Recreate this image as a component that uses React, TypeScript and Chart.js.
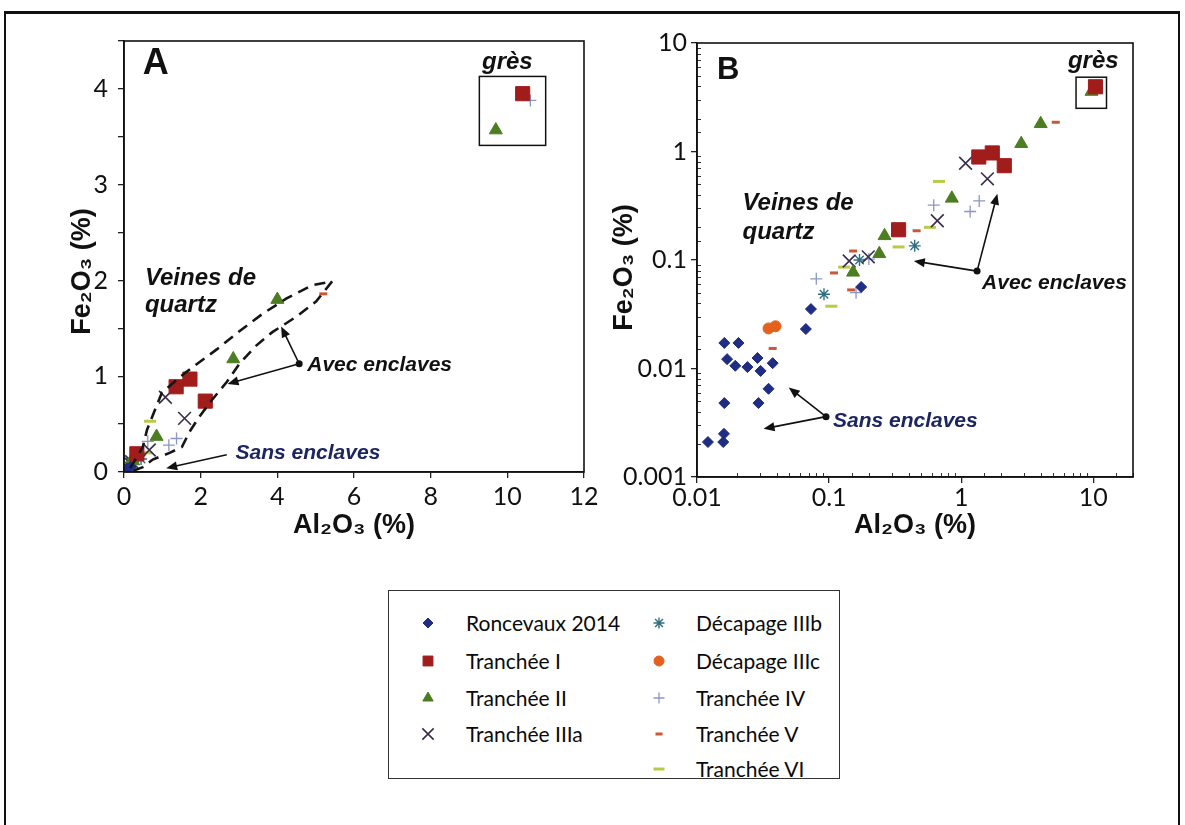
import React, { useEffect, useRef } from 'react';
import { Chart, registerables } from 'chart.js';
import { drawPoint } from 'chart.js/helpers';

Chart.register(...registerables);

// ---------------- data (Al2O3 %, Fe2O3 %) ----------------
const roncevauxAl = [0.0121, 0.0158, 0.016, 0.0161, 0.0161, 0.0206, 0.0169, 0.0195, 0.0241, 0.0287, 0.0303, 0.0374, 0.0348, 0.0292, 0.0667, 0.0729, 0.175];
const roncevauxFe = [0.0021, 0.0021, 0.0025, 0.0048, 0.0172, 0.0172, 0.0122, 0.0106, 0.0103, 0.0125, 0.0095, 0.0112, 0.0065, 0.0048, 0.0231, 0.0353, 0.0564];

const tranchee1Al = [1.36, 1.72, 2.12, 0.336, 10.4];
const tranchee1Fe = [0.89, 0.97, 0.74, 0.19, 3.95];

const tranchee2Al = [4.0, 2.85, 0.85, 0.263, 0.24, 0.152, 9.7];
const tranchee2Fe = [1.8, 1.18, 0.37, 0.167, 0.114, 0.077, 3.57];

const tranchee3aAl = [1.08, 1.58, 0.66, 0.142, 0.198];
const tranchee3aFe = [0.78, 0.56, 0.23, 0.098, 0.107];

const decapage3bAl = [0.445, 0.0915, 0.17];
const decapage3bFe = [0.135, 0.0484, 0.1];

const decapage3cAl = [0.0348, 0.0393];
const decapage3cFe = [0.0234, 0.0245];

const tranchee4Al = [0.08, 0.2, 0.16, 0.62, 1.17, 1.37, 10.6];
const tranchee4Fe = [0.067, 0.102, 0.05, 0.32, 0.28, 0.35, 3.88];

const tranchee5Al = [0.46, 0.152, 0.109, 0.147, 0.0374, 5.2];
const tranchee5Fe = [0.186, 0.121, 0.076, 0.053, 0.0153, 1.86];

const tranchee6Al = [0.68, 0.58, 0.336, 0.104, 0.13];
const tranchee6Fe = [0.53, 0.2, 0.132, 0.0375, 0.086];

const linearTicksA = { xMin: 0, xMax: 12, xStep: 2, yMin: 0, yMax: 4.5, yStep: 0.5 };
const logTickLabels = ['0.001', '0.01', '0.1', '1', '10'];

// ---------------- styles ----------------
type Series = { label: string; al: number[]; fe: number[]; style: string; r: number; lr: number; color: string; bw: number };
const SERIES: Series[] = [
  { label: 'Roncevaux 2014', al: roncevauxAl, fe: roncevauxFe, style: 'rectRot', r: 5.5, lr: 5, color: '#1f2d84', bw: 1 },
  { label: 'Tranchée I', al: tranchee1Al, fe: tranchee1Fe, style: 'rect', r: 10, lr: 7, color: '#a11d1c', bw: 1 },
  { label: 'Tranchée II', al: tranchee2Al, fe: tranchee2Fe, style: 'triangle', r: 7.5, lr: 6, color: '#4d7d21', bw: 1 },
  { label: 'Tranchée IIIa', al: tranchee3aAl, fe: tranchee3aFe, style: 'crossRot', r: 9, lr: 8, color: '#3a2d4c', bw: 1.6 },
  { label: 'Décapage IIIb', al: decapage3bAl, fe: decapage3bFe, style: 'star', r: 6, lr: 5.5, color: '#2f7080', bw: 1.4 },
  { label: 'Décapage IIIc', al: decapage3cAl, fe: decapage3cFe, style: 'circle', r: 5.5, lr: 5, color: '#e3611d', bw: 1 },
  { label: 'Tranchée IV', al: tranchee4Al, fe: tranchee4Fe, style: 'cross', r: 6, lr: 5.5, color: '#8a96c8', bw: 1.3 },
  { label: 'Tranchée V', al: tranchee5Al, fe: tranchee5Fe, style: 'line', r: 4, lr: 3.5, color: '#c8573c', bw: 3 },
  { label: 'Tranchée VI', al: tranchee6Al, fe: tranchee6Fe, style: 'line', r: 6, lr: 5.5, color: '#b8cb44', bw: 3 },
];

const TICK_FONT = { family: "Lato, 'Liberation Sans', sans-serif", size: 25 };
const TITLE_FONT = { family: "'Liberation Sans', Arial, 'DejaVu Sans', sans-serif", size: 27, weight: 'bold' as const };
const ANNO_FONT = "'Liberation Sans', Arial, sans-serif";

function makeDatasets() {
  return SERIES.map((s) => ({
    label: s.label,
    data: s.al.map((x, i) => ({ x, y: s.fe[i] })),
    pointStyle: s.style as any,
    pointRadius: s.r,
    pointHoverRadius: s.r,
    backgroundColor: s.color,
    borderColor: s.color,
    borderWidth: s.bw,
    showLine: false,
  }));
}

// ---------------- annotations (data space) ----------------
type Pt = [number, number];
type Group = { dot: Pt | null; tips: Pt[]; text: Pt; start?: Pt };
type AnnoCfg = {
  letter: { text: string; x: number; y: number; size: number };
  gres: { x: number; y: number; box: [number, number, number, number] };
  veines: { x: number; y1: number; y2: number };
  avec: Group;
  sans: Group;
  envelope?: Pt[];
  minorTicks: boolean;
};

const annoA: AnnoCfg = {
  letter: { text: 'A', x: 0.49, y: 4.26, size: 36 },
  gres: { x: 10.0, y: 4.28, box: [9.27, 3.41, 11.0, 4.13] },
  veines: { x: 0.545, y1: 2.02, y2: 1.74 },
  avec: { dot: [4.57, 1.13], tips: [[4.1, 1.52], [2.7, 0.92]], text: [4.78, 1.11] },
  sans: { dot: null, start: [2.68, 0.18], tips: [[1.1, 0.04]], text: [2.91, 0.2] },
  envelope: [
    [0.16, 0.04], [0.49, 0.26], [0.6, 0.44], [0.99, 0.83], [1.64, 1.05], [2.42, 1.28], [3.01, 1.47],
    [3.61, 1.65], [4.23, 1.81], [4.91, 1.95], [5.43, 1.99], [5.01, 1.78], [4.49, 1.62], [3.87, 1.46],
    [3.45, 1.32], [3.01, 1.13], [2.68, 0.94], [2.31, 0.76], [1.97, 0.58], [1.71, 0.42], [1.51, 0.26],
    [1.19, 0.2], [0.75, 0.13], [0.49, 0.05], [0.16, 0.0],
  ],
  minorTicks: false,
};

const annoB: AnnoCfg = {
  letter: { text: 'B', x: 0.0142, y: 5.62, size: 31 },
  gres: { x: 10.0, y: 6.83, box: [7.41, 2.5, 12.6, 4.84] },
  veines: { x: 0.0221, y1: 0.33, y2: 0.181 },
  avec: { dot: [1.32, 0.079], tips: [[1.88, 0.408], [0.438, 0.098]], text: [1.44, 0.0611] },
  sans: { dot: [0.0948, 0.0036], tips: [[0.0495, 0.00667], [0.0319, 0.00278]], text: [0.107, 0.0033] },
  minorTicks: true,
};

function isDecade(v: number) {
  const l = Math.log10(v);
  return Math.abs(l - Math.round(l)) < 1e-6;
}

function arrow(ctx: CanvasRenderingContext2D, x0: number, y0: number, x1: number, y1: number) {
  const a = Math.atan2(y1 - y0, x1 - x0);
  const L = 11, W = 4.5;
  ctx.beginPath();
  ctx.moveTo(x0, y0);
  ctx.lineTo(x1 - Math.cos(a) * L * 0.8, y1 - Math.sin(a) * L * 0.8);
  ctx.stroke();
  ctx.beginPath();
  ctx.moveTo(x1, y1);
  ctx.lineTo(x1 - Math.cos(a) * L - Math.sin(a) * W, y1 - Math.sin(a) * L + Math.cos(a) * W);
  ctx.lineTo(x1 - Math.cos(a) * L + Math.sin(a) * W, y1 - Math.sin(a) * L - Math.cos(a) * W);
  ctx.closePath();
  ctx.fill();
}

function annoPlugin(id: string, cfg: AnnoCfg) {
  return {
    id,
    afterDatasetsDraw(chart: any) {
      const { ctx, chartArea: ca } = chart;
      const xs = chart.scales.x, ys = chart.scales.y;
      const px = (v: number) => xs.getPixelForValue(v);
      const py = (v: number) => ys.getPixelForValue(v);
      ctx.save();
      if (cfg.minorTicks) {
        ctx.strokeStyle = '#333';
        ctx.lineWidth = 1;
        xs.ticks.forEach((t: any) => {
          if (isDecade(t.value)) return;
          const X = Math.round(px(t.value)) + 0.5;
          ctx.beginPath(); ctx.moveTo(X, ca.bottom); ctx.lineTo(X, ca.bottom - 4); ctx.stroke();
        });
        ys.ticks.forEach((t: any) => {
          if (isDecade(t.value)) return;
          const Y = Math.round(py(t.value)) + 0.5;
          ctx.beginPath(); ctx.moveTo(ca.left, Y); ctx.lineTo(ca.left + 4, Y); ctx.stroke();
        });
      }
      ctx.strokeStyle = '#111';
      ctx.lineWidth = 1.6;
      ctx.strokeRect(ca.left, ca.top, ca.right - ca.left, ca.bottom - ca.top);

      if (cfg.envelope) {
        ctx.save();
        ctx.setLineDash([11, 7]);
        ctx.lineWidth = 2.6;
        ctx.strokeStyle = '#151515';
        ctx.beginPath();
        cfg.envelope.forEach(([x, y], i) => (i ? ctx.lineTo(px(x), py(y)) : ctx.moveTo(px(x), py(y))));
        ctx.stroke();
        ctx.restore();
      }

      ctx.fillStyle = '#111';
      ctx.textBaseline = 'middle';
      ctx.font = `bold ${cfg.letter.size}px ${ANNO_FONT}`;
      ctx.textAlign = 'left';
      ctx.fillText(cfg.letter.text, px(cfg.letter.x), py(cfg.letter.y));
      ctx.font = `italic bold 24px ${ANNO_FONT}`;
      ctx.textAlign = 'center';
      ctx.fillText('grès', px(cfg.gres.x), py(cfg.gres.y));
      const [bx0, by0, bx1, by1] = cfg.gres.box;
      ctx.lineWidth = 1.5;
      ctx.strokeRect(px(bx0), py(by1), px(bx1) - px(bx0), py(by0) - py(by1));
      ctx.textAlign = 'left';
      ctx.fillText('Veines de', px(cfg.veines.x), py(cfg.veines.y1));
      ctx.fillText('quartz', px(cfg.veines.x), py(cfg.veines.y2));

      const drawGroup = (g: Group, color: string, label: string) => {
        ctx.strokeStyle = '#111';
        ctx.fillStyle = '#111';
        ctx.lineWidth = 1.6;
        const origin = g.dot || g.start!;
        g.tips.forEach((t) => arrow(ctx, px(origin[0]), py(origin[1]), px(t[0]), py(t[1])));
        if (g.dot) {
          ctx.beginPath();
          ctx.arc(px(g.dot[0]), py(g.dot[1]), 3.5, 0, Math.PI * 2);
          ctx.fill();
        }
        ctx.fillStyle = color;
        ctx.font = `italic bold 21px ${ANNO_FONT}`;
        ctx.textAlign = 'left';
        ctx.fillText(label, px(g.text[0]), py(g.text[1]));
      };
      drawGroup(cfg.avec, '#111', 'Avec enclaves');
      drawGroup(cfg.sans, '#1c2462', 'Sans enclaves');
      ctx.restore();
    },
  };
}

const noPadX = (h: number) => (s: any) => { s.height = h; s.paddingLeft = 0; s.paddingRight = 0; };
const noPadY = (w: number) => (s: any) => { s.width = w; s.paddingTop = 0; s.paddingBottom = 0; };

// ---------------- charts ----------------
function buildA(canvas: HTMLCanvasElement) {
  return new Chart(canvas, {
    type: 'scatter',
    data: { datasets: makeDatasets() as any },
    plugins: [annoPlugin('annoA', annoA)],
    options: {
      responsive: false,
      animation: false,
      layout: { padding: { left: 66, top: 41, right: 16, bottom: 38 } },
      plugins: { legend: { display: false }, tooltip: { enabled: false } },
      scales: {
        x: {
          type: 'linear',
          min: linearTicksA.xMin,
          max: linearTicksA.xMax,
          ticks: { stepSize: linearTicksA.xStep, font: TICK_FONT, color: '#111', padding: 4, maxRotation: 0 },
          grid: { drawOnChartArea: false, tickLength: 6, color: '#222', lineWidth: 1.3 },
          border: { display: true, color: '#111', width: 1.6 },
          title: { display: true, text: 'Al₂O₃ (%)', font: TITLE_FONT, color: '#111', padding: { top: 0, bottom: 0 } },
          afterFit: noPadX(70),
        },
        y: {
          type: 'linear',
          min: linearTicksA.yMin,
          max: linearTicksA.yMax,
          ticks: {
            stepSize: linearTicksA.yStep,
            font: TICK_FONT,
            color: '#111',
            padding: 10,
            callback: (v: any) => (Number.isInteger(Number(v)) ? String(v) : ''),
          },
          grid: { drawOnChartArea: false, tickLength: 6, color: '#222', lineWidth: 1.3 },
          border: { display: true, color: '#111', width: 1.6 },
          title: { display: true, text: 'Fe₂O₃ (%)    ', font: TITLE_FONT, color: '#111', padding: { top: 0, bottom: 0 } },
          afterFit: noPadY(58),
        },
      },
    } as any,
  });
}

function logLabel(v: any) {
  const n = Number(v);
  if (!isDecade(n)) return '';
  const found = logTickLabels.find((s) => Math.abs(Number(s) - n) / n < 1e-6);
  return found || '';
}

function buildB(canvas: HTMLCanvasElement) {
  const tickColor = (c: any) => (c.tick && isDecade(c.tick.value) ? '#222' : 'rgba(0,0,0,0)');
  return new Chart(canvas, {
    type: 'scatter',
    data: { datasets: makeDatasets() as any },
    plugins: [annoPlugin('annoB', annoB)],
    options: {
      responsive: false,
      animation: false,
      layout: { padding: { left: 38, top: 43, right: 52, bottom: 38 } },
      plugins: { legend: { display: false }, tooltip: { enabled: false } },
      scales: {
        x: {
          type: 'logarithmic',
          min: 0.01,
          max: 20,
          ticks: { font: TICK_FONT, color: '#111', padding: 0, maxRotation: 0, autoSkip: false, callback: logLabel },
          grid: { drawOnChartArea: false, tickLength: 6, tickColor, lineWidth: 1.3 },
          border: { display: true, color: '#111', width: 1.6 },
          title: { display: true, text: 'Al₂O₃ (%)', font: TITLE_FONT, color: '#111', padding: { top: 0, bottom: 0 } },
          afterFit: noPadX(65),
        },
        y: {
          type: 'logarithmic',
          min: 0.001,
          max: 10,
          ticks: { font: TICK_FONT, color: '#111', padding: 4, autoSkip: false, callback: logLabel },
          grid: { drawOnChartArea: false, tickLength: 6, tickColor, lineWidth: 1.3 },
          border: { display: true, color: '#111', width: 1.6 },
          title: { display: true, text: 'Fe₂O₃ (%)  ', font: TITLE_FONT, color: '#111', padding: { top: 0, bottom: 0 } },
          afterFit: noPadY(89),
        },
      },
    } as any,
  });
}

// ---------------- legend ----------------
function Marker({ s, left, top }: { s: Series; left: number; top: number }) {
  const ref = useRef<HTMLCanvasElement>(null);
  useEffect(() => {
    const c = ref.current;
    if (!c) return;
    const ctx = c.getContext('2d')!;
    ctx.clearRect(0, 0, 28, 24);
    ctx.fillStyle = s.color;
    ctx.strokeStyle = s.color;
    ctx.lineWidth = s.bw;
    drawPoint(ctx, { pointStyle: s.style as any, radius: s.lr, rotation: 0, borderWidth: s.bw } as any, 14, 12);
  }, [s]);
  return <canvas ref={ref} width={28} height={24} style={{ position: 'absolute', left: left - 14, top: top - 12 }} />;
}

const LEGEND_ROWS = [32, 70, 107, 143, 178];

function Legend() {
  const col1 = SERIES.slice(0, 4);
  const col2 = SERIES.slice(4);
  const items: { s: Series; mx: number; tx: number; y: number }[] = [];
  col1.forEach((s, i) => items.push({ s, mx: 39, tx: 77, y: LEGEND_ROWS[i] }));
  col2.forEach((s, i) => items.push({ s, mx: 270, tx: 307, y: LEGEND_ROWS[i] }));
  return (
    <div
      style={{
        position: 'absolute',
        left: 388,
        top: 590,
        width: 452,
        height: 189,
        border: '1.5px solid #333',
        boxSizing: 'border-box',
        background: '#fff',
      }}
    >
      {items.map((it) => (
        <React.Fragment key={it.s.label}>
          <Marker s={it.s} left={it.mx} top={it.y} />
          <span
            style={{
              position: 'absolute',
              left: it.tx,
              top: it.y - 13,
              lineHeight: '26px',
              fontSize: 21,
              fontFamily: "Lato, 'Noto Sans', sans-serif",
              color: '#0a0a0a',
              whiteSpace: 'nowrap',
            }}
          >
            {it.s.label}
          </span>
        </React.Fragment>
      ))}
    </div>
  );
}

export default function App() {
  const refA = useRef<HTMLCanvasElement>(null);
  const refB = useRef<HTMLCanvasElement>(null);
  useEffect(() => {
    const a = buildA(refA.current!);
    const b = buildB(refB.current!);
    return () => {
      a.destroy();
      b.destroy();
    };
  }, []);
  return (
    <div style={{ position: 'fixed', left: 0, top: 0, width: 1185, height: 825, background: '#fff', overflow: 'hidden' }}>
      <div
        style={{
          position: 'absolute',
          left: 4,
          top: 11,
          width: 1176,
          height: 900,
          borderLeft: '2px solid #111',
          borderRight: '2px solid #111',
          borderTop: '3px solid #111',
          boxSizing: 'border-box',
        }}
      />
      <canvas ref={refA} width={600} height={580} style={{ position: 'absolute', left: 0, top: 0, width: 600, height: 580 }} />
      <canvas ref={refB} width={615} height={580} style={{ position: 'absolute', left: 570, top: 0, width: 615, height: 580 }} />
      <Legend />
    </div>
  );
}
